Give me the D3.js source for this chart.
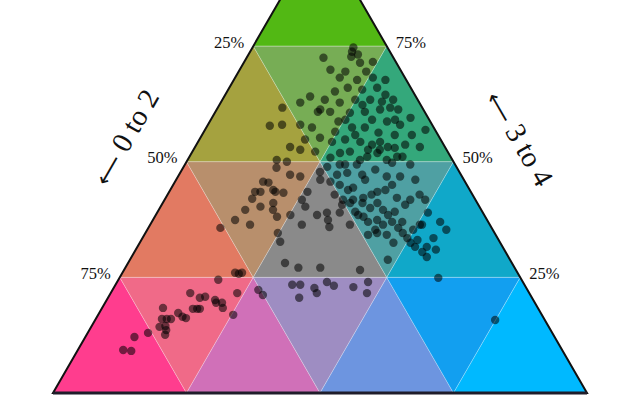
<!DOCTYPE html>
<html><head><meta charset="utf-8">
<script src="https://cdn.jsdelivr.net/npm/d3@7"></script>
<style>body{margin:0;background:#fff}svg{display:block}</style>
</head><body>
<svg id="chart" width="640" height="400"></svg>
<script>
// ---- data ----
const axisArrow = "\u27f5";
const axisTitles = ["0 to 2", "3 to 4"];
const tickValues = [25, 50, 75];
const tickLabels = ["25%", "50%", "75%"];
// cell colours, rows top -> bottom, left -> right (alternating up/down triangles)
const cellColors = [
  ["#52b814"],
  ["#a5a23f", "#77ad55", "#34a87b"],
  ["#e27a62", "#b88f6c", "#8a8a8a", "#4fa0a3", "#10a8c9"],
  ["#ff3d8e", "#f06a88", "#d070b8", "#9e8dc2", "#6d95e0", "#129ff0", "#00b9ff"]
];
// share of "3 to 4" (%)
const threeToFour = [
74.7,73.8,72.7,72.5,71.4,71.6,69.5,69.5,68.2,67.7,68.2,66.0,65.6,65.2,66.0,64.5,64.1,63.4,62.8,62.8,
63.4,63.4,63.4,61.7,60.8,60.8,60.6,60.8,61.3,61.3,59.1,58.7,58.0,59.5,57.8,58.0,58.0,57.4,58.7,57.4,
57.4,56.3,55.8,55.8,54.8,55.2,54.3,54.8,54.3,53.7,53.2,53.7,53.2,53.2,52.6,52.2,
50.4,50.0,48.7,47.2,46.8,45.7,45.5,43.9,43.5,43.5,43.5,43.3,42.0,41.1,39.6,38.1,40.3,43.5,41.8,40.3,
38.5,39.0,37.4,35.9,36.4,34.6,28.1,27.1,27.1,26.6,24.0,23.4,23.4,22.7,21.6,24.0,23.2,22.9,21.6,20.6,
22.3,21.2,26.0,
47.8,48.9,50.9,51.9,52.2,49.4,51.1,51.9,52.6,50.4,51.1,51.1,49.4,49.8,46.1,45.7,47.2,47.6,47.2,48.3,
46.8,46.8,45.0,44.4,43.5,43.9,42.2,41.8,41.8,42.2,40.7,41.1,41.1,41.1,39.6,39.0,39.2,38.1,37.0,37.4,
35.3,36.4,37.0,37.0,35.7,35.3,34.2,34.6,34.2,32.5,33.5,32.5,33.1,36.4,39.0,36.4,31.6,30.5,29.4,31.6,
34.6,28.8,24.9,15.8,
26.0,25.8,24.5,21.6,20.6,20.8,20.1,19.5,19.5,18.4,21.6,16.9,18.4,16.0,16.0,16.0,17.3,16.5,16.2,18.2,
18.2,18.2,14.3,14.5,13.6,12.6,13.0,12.1,9.3,9.1,
37.4,35.7,36.4,37.0,35.3,46.1,42.9,
73.2,69.9,67.7,61.3,59.1,61.7,56.9,56.5,55.8,54.3,52.6,53.0,
49.4,46.1,45.0,41.8,40.0,39.2,36.4,33.5,31.0,38.5,39.6,32.7,
42.9,43.9,42.9,38.5,38.5,40.7,41.8,50.4,49.4,59.1,63.0,62.3
];
// share of "0 to 2" (%)
const zeroToTwo = [
6.4,7.1,7.8,13.1,6.8,4.3,6.6,10.5,12.2,9.2,6.0,11.8,9.3,14.6,6.3,5.5,19.8,17.4,22.3,14.9,
11.7,8.9,4.6,26.2,20.0,17.7,14.1,11.2,8.1,4.7,10.7,8.1,6.0,3.3,30.5,28.1,24.7,22.8,17.2,15.3,
12.9,10.9,8.1,4.9,25.4,22.4,20.6,17.9,15.3,13.4,10.7,7.2,4.7,29.0,27.4,24.8,
32.9,31.2,33.8,32.0,30.3,37.8,36.9,36.8,36.6,40.4,39.4,35.2,41.7,38.2,39.0,39.0,41.0,30.6,32.5,32.6,
31.3,29.2,29.8,30.3,35.2,40.6,42.5,40.5,36.4,29.2,29.0,43.5,42.0,39.7,39.8,36.7,35.8,32.3,30.4,43.6,
50.4,50.1,51.6,
26.1,24.2,22.6,20.3,18.3,18.4,15.6,13.3,12.5,12.3,10.0,9.0,8.4,11.6,26.9,25.2,23.2,21.1,18.5,15.5,
14.1,11.6,23.8,21.6,17.5,15.8,14.5,24.8,22.9,20.8,25.5,23.8,21.5,18.7,18.4,26.8,23.8,22.8,22.5,20.6,
22.0,20.0,18.0,16.1,17.5,14.9,23.9,22.0,20.4,20.0,16.9,16.8,15.2,13.1,10.3,12.7,16.4,15.6,15.3,14.2,
17.2,22.9,15.4,9.3,
52.9,52.3,56.8,63.5,62.2,61.1,59.6,59.7,58.6,59.0,54.7,57.8,70.2,71.6,70.7,69.9,67.9,67.5,67.0,64.7,
63.9,63.4,72.9,71.7,72.0,72.7,75.7,78.7,82.2,80.8,
47.2,50.8,44.9,9.0,8.7,9.1,9.9,
6.3,13.1,3.9,19.3,15.7,6.0,1.8,18.9,15.5,11.6,14.7,9.5,
20.6,18.5,14.0,12.2,20.6,16.4,26.2,12.0,12.8,36.3,44.2,41.1,
25.8,22.8,18.9,23.6,18.0,13.7,9.4,17.3,21.6,6.4,6.9,10.9
];
// remaining share ("5 or more")
const fivePlus = threeToFour.map((t, i) => 100 - t - zeroToTwo[i]);

// ---- layout ----
const left = 53, right = 587, base = 393;
const side = right - left;
const triH = side * Math.sqrt(3) / 2;
const xS = d3.scaleLinear().domain([0, 100]).range([left, right]);
const yS = d3.scaleLinear().domain([0, 100]).range([base, base - triH]);
// position from (top share t, right share r)
const P = (t, r) => [xS(r + t / 2), yS(t)];

const svg = d3.select("#chart");
const g = svg.append("g");

// cells
const n = 4, step = 100 / n;
const cells = [];
for (let i = 0; i < n; i++) {
  const tTop = 100 - i * step, tBot = 100 - (i + 1) * step;
  let k = 0;
  for (let j = 0; j <= i; j++) {
    cells.push({pts: [P(tTop, j * step), P(tBot, j * step), P(tBot, (j + 1) * step)], color: cellColors[i][k++]});
    if (j < i) {
      cells.push({pts: [P(tTop, j * step), P(tTop, (j + 1) * step), P(tBot, (j + 1) * step)], color: cellColors[i][k++]});
    }
  }
}
g.selectAll("path.cell").data(cells).join("path")
  .attr("class", "cell")
  .attr("d", d => "M" + d.pts.map(p => p.join(",")).join("L") + "Z")
  .attr("fill", d => d.color)
  .attr("stroke", "rgba(255,255,255,0.25)")
  .attr("stroke-width", 1);

// outline
const A = P(100, 0), B = P(0, 0), C = P(0, 100);
g.append("path")
  .attr("d", `M${A}L${B}L${C}Z`)
  .attr("fill", "none").attr("stroke", "#111").attr("stroke-width", 2)
  .attr("stroke-linejoin", "miter");
g.append("line").attr("x1", B[0]).attr("y1", B[1]).attr("x2", C[0]).attr("y2", C[1])
  .attr("stroke", "#1f1d2a").attr("stroke-width", 3);

// points
const pts = threeToFour.map((t, i) => ({t, l: zeroToTwo[i], r: fivePlus[i]}));
g.selectAll("circle.pt").data(pts).join("circle")
  .attr("class", "pt")
  .attr("cx", d => P(d.t, d.r)[0])
  .attr("cy", d => P(d.t, d.r)[1])
  .attr("r", 4.2)
  .attr("fill", "#000")
  .attr("fill-opacity", 0.55);

// tick labels
const fontSerif = "'Liberation Serif', 'DejaVu Serif', serif";
tickValues.forEach((tv, i) => {
  const pl = P(tv, 0);
  g.append("text").attr("x", pl[0] - 9).attr("y", pl[1] + 1.5)
    .attr("text-anchor", "end").attr("font-family", fontSerif).attr("font-size", 16.5)
    .attr("fill", "#111").text(tickLabels[tickValues.indexOf(100 - tv)]);
  const pr = P(tv, 100 - tv);
  g.append("text").attr("x", pr[0] + 9).attr("y", pr[1] + 1.5)
    .attr("text-anchor", "start").attr("font-family", fontSerif).attr("font-size", 16.5)
    .attr("fill", "#111").text(tickLabels[i]);
});

// axis titles
const titleCenters = [[125, 137], [520, 138]];
const titleRot = [-60, 60];
axisTitles.forEach((txt, i) => {
  const t = g.append("text")
    .attr("transform", `translate(${titleCenters[i][0]},${titleCenters[i][1]}) rotate(${titleRot[i]})`)
    .attr("text-anchor", "middle").attr("dy", "0.35em")
    .attr("font-family", fontSerif).attr("font-size", 29).attr("fill", "#111");
  t.append("tspan").attr("font-family", "'DejaVu Sans', sans-serif").attr("font-size", 22)
    .text(axisArrow);
  t.append("tspan").text("\u00a0" + txt);
});
</script>
</body></html>
